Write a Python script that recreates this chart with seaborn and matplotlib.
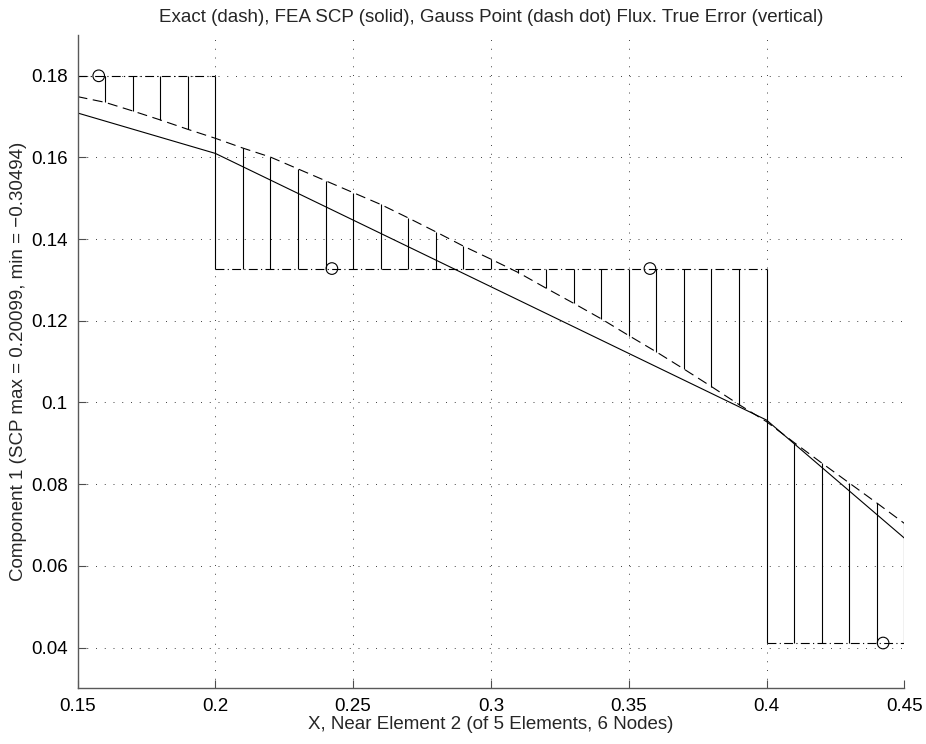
import numpy as np
import pandas as pd
import matplotlib
matplotlib.use("Agg")
import matplotlib.pyplot as plt
import seaborn as sns

# ---- data ----
x_samples = [0.15, 0.16, 0.17, 0.18, 0.19, 0.20, 0.21, 0.22, 0.23, 0.24, 0.25,
             0.26, 0.27, 0.28, 0.29, 0.30, 0.31, 0.32, 0.33, 0.34, 0.35,
             0.36, 0.37, 0.38, 0.39, 0.40, 0.41, 0.42, 0.43, 0.44, 0.45]
exact_flux = [0.1749, 0.1735, 0.1714, 0.1692, 0.1669, 0.1647, 0.1623, 0.1601,
              0.1572, 0.1543, 0.1514, 0.1485, 0.1452, 0.1418, 0.1383, 0.1351,
              0.1318, 0.1280, 0.1243, 0.1205, 0.1164, 0.1124, 0.1082, 0.1039,
              0.0995, 0.0953, 0.0902, 0.0852, 0.0803, 0.0754, 0.0704]
scp_x = [0.15, 0.20, 0.40, 0.45]
scp_flux = [0.1709, 0.1610, 0.0957, 0.0668]
elem_start = [0.15, 0.20, 0.40]
elem_end = [0.20, 0.40, 0.45]
elem_gauss_flux = [0.1800, 0.1328, 0.0411]
gauss_x = [0.1577, 0.2423, 0.3577, 0.4423]
gauss_y = [0.1800, 0.1328, 0.1328, 0.0411]

title = "Exact (dash), FEA SCP (solid), Gauss Point (dash dot) Flux. True Error (vertical)"
xlabel = "X, Near Element 2 (of 5 Elements, 6 Nodes)"
ylabel = "Component 1 (SCP max = 0.20099, min = \u22120.30494)"
x_ticks = [0.15, 0.2, 0.25, 0.3, 0.35, 0.4, 0.45]
x_ticklabels = ["0.15", "0.2", "0.25", "0.3", "0.35", "0.4", "0.45"]
y_ticks = [0.04, 0.06, 0.08, 0.1, 0.12, 0.14, 0.16, 0.18]
y_ticklabels = ["0.04", "0.06", "0.08", "0.1", "0.12", "0.14", "0.16", "0.18"]

# ---- tables ----
exact_df = pd.DataFrame({"x": x_samples, "y": exact_flux})
scp_df = pd.DataFrame({"x": scp_x, "y": scp_flux})
gauss_df = pd.DataFrame({"x": gauss_x, "y": gauss_y})

sns.set_theme(style="white")
plt.rcParams["font.family"] = ["Liberation Sans", "DejaVu Sans"]

FS = 13.5
fig = plt.figure(figsize=(9.26, 7.44), dpi=100)
ax = fig.add_axes([0.0837, 0.0748, 0.8929, 0.8782])

line_kw = dict(color="black", linewidth=0.8, legend=False, estimator=None, sort=False)

# exact (dash)
sns.lineplot(data=exact_df, x="x", y="y", ax=ax, linestyle=(0, (9, 5)), **line_kw)
# FEA SCP (solid)
sns.lineplot(data=scp_df, x="x", y="y", ax=ax, linestyle="-", **line_kw)
# Gauss point flux (dash dot), element-wise constant
for xs, xe, g in zip(elem_start, elem_end, elem_gauss_flux):
    seg = pd.DataFrame({"x": [xs, xe], "y": [g, g]})
    sns.lineplot(data=seg, x="x", y="y", ax=ax, linestyle=(0, (8, 3, 1, 3)), **line_kw)
    # true error verticals inside this element
    xv = [x for x in x_samples if xs - 1e-9 <= x <= xe + 1e-9]
    ev = [exact_flux[x_samples.index(x)] for x in xv]
    ax.vlines(xv, [g] * len(xv), ev, colors="black", linewidth=0.8)

# Gauss points (circles)
sns.scatterplot(data=gauss_df, x="x", y="y", ax=ax, marker="o", s=70,
                facecolor="none", edgecolor="black", linewidth=0.8, legend=False)

ax.set_xlim(0.15, 0.45)
ax.set_ylim(0.03, 0.19)
ax.set_xticks(x_ticks)
ax.set_xticklabels(x_ticklabels)
ax.set_yticks(y_ticks)
ax.set_yticklabels(y_ticklabels)

ax.grid(True, color="0.25", linestyle=(0, (1, 8)), linewidth=0.7)
for side in ["top", "right"]:
    ax.spines[side].set_visible(False)
for side in ["left", "bottom"]:
    ax.spines[side].set_color("0.35")
    ax.spines[side].set_linewidth(1.0)

ax.tick_params(direction="in", length=6, width=0.8, color="0.3",
               labelsize=FS, labelcolor="black", pad=7,
               left=True, bottom=True)

ax.set_title(title, fontsize=FS, pad=9)
ax.set_xlabel(xlabel, fontsize=FS, labelpad=1)
ax.set_ylabel(ylabel, fontsize=FS, labelpad=3)

fig.savefig("out.png", dpi=100)
